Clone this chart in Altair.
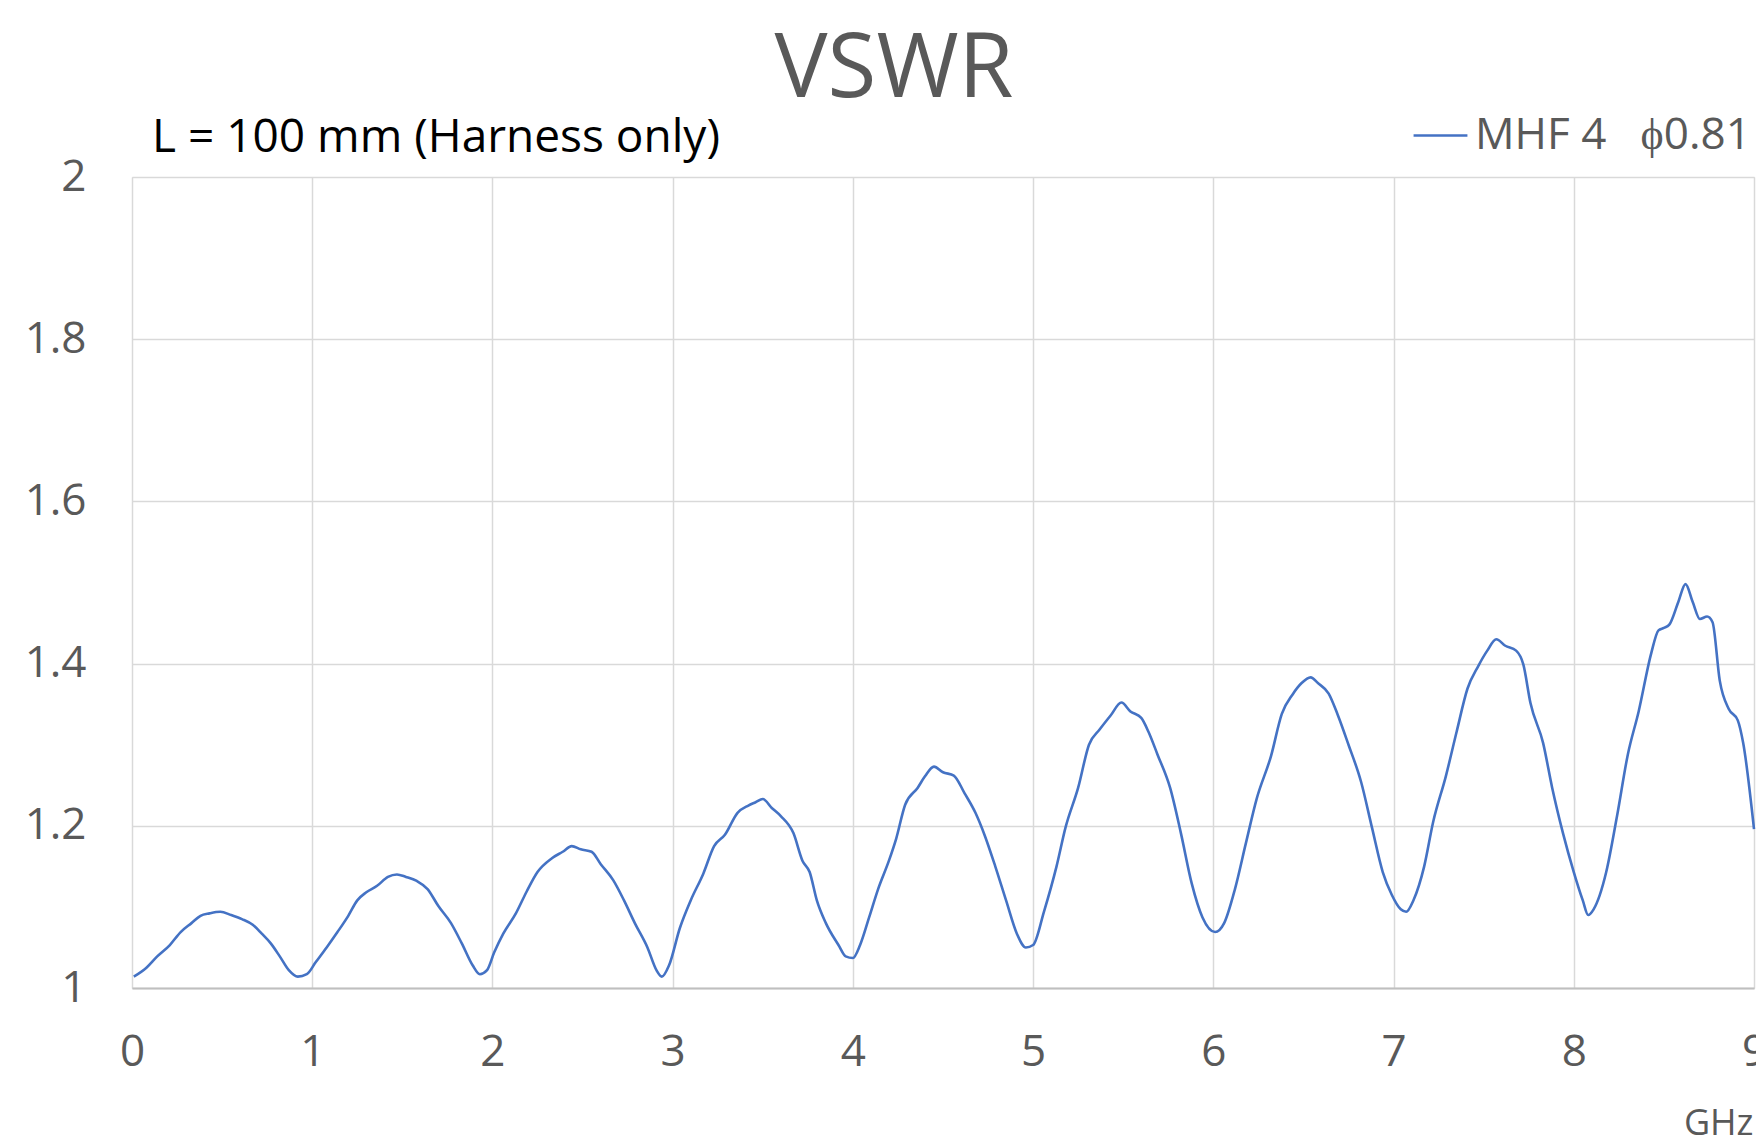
import altair as alt
import pandas as pd

# ---- data ----
freq_ghz = [
    0.01, 0.08, 0.14, 0.21, 0.27, 0.33, 0.38, 0.43, 0.49, 0.55, 0.61, 0.67, 0.72, 0.77, 0.82, 0.87, 0.92, 0.97,
    1.02, 1.08, 1.14, 1.20, 1.25, 1.30, 1.36, 1.42, 1.47, 1.52, 1.58, 1.64, 1.70, 1.77, 1.83, 1.89, 1.93, 1.97,
    2.01, 2.06, 2.13, 2.19, 2.25, 2.33, 2.39, 2.44, 2.49, 2.55, 2.60, 2.67, 2.73, 2.79, 2.86, 2.91, 2.94, 2.98,
    3.04, 3.10, 3.17, 3.23, 3.29, 3.36, 3.42, 3.46, 3.50, 3.55, 3.60, 3.67, 3.72, 3.76, 3.80, 3.85, 3.92, 3.96, 4.00, 4.04,
    4.09, 4.14, 4.20, 4.24, 4.29, 4.36, 4.40, 4.45, 4.50, 4.56, 4.62, 4.68, 4.73, 4.79, 4.85, 4.91, 4.96, 5.00,
    5.06, 5.13, 5.18, 5.25, 5.31, 5.37, 5.43, 5.49, 5.54, 5.60, 5.64, 5.69, 5.76, 5.82, 5.88, 5.94, 6.01, 6.06,
    6.12, 6.18, 6.24, 6.32, 6.38, 6.44, 6.49, 6.54, 6.58, 6.64, 6.69, 6.75, 6.82, 6.88, 6.94, 6.99, 7.04, 7.07, 7.11,
    7.17, 7.22, 7.29, 7.35, 7.41, 7.47, 7.52, 7.57, 7.62, 7.68, 7.72, 7.76, 7.83, 7.88, 7.94, 8.00, 8.05, 8.08, 8.11,
    8.18, 8.24, 8.30, 8.36, 8.43, 8.47, 8.50, 8.53, 8.58, 8.62, 8.66, 8.70, 8.74, 8.77, 8.81, 8.86, 8.91, 8.94, 9.00,
]
vswr = [
    1.014, 1.025, 1.039, 1.053, 1.069, 1.080, 1.089, 1.092, 1.094, 1.090, 1.085, 1.078, 1.067, 1.055, 1.039, 1.022, 1.014, 1.017,
    1.032, 1.050, 1.069, 1.089, 1.108, 1.118, 1.126, 1.137, 1.140, 1.137, 1.132, 1.122, 1.101, 1.080, 1.055, 1.028, 1.017, 1.022,
    1.044, 1.067, 1.092, 1.119, 1.143, 1.160, 1.168, 1.175, 1.171, 1.168, 1.153, 1.133, 1.108, 1.080, 1.050, 1.022, 1.014, 1.028,
    1.074, 1.108, 1.141, 1.175, 1.189, 1.216, 1.225, 1.229, 1.233, 1.222, 1.212, 1.191, 1.157, 1.143, 1.108, 1.080, 1.053, 1.039, 1.037, 1.053,
    1.087, 1.122, 1.157, 1.184, 1.226, 1.247, 1.261, 1.273, 1.266, 1.262, 1.240, 1.216, 1.189, 1.150, 1.108, 1.067, 1.050, 1.053,
    1.094, 1.150, 1.198, 1.247, 1.300, 1.319, 1.336, 1.352, 1.341, 1.333, 1.316, 1.288, 1.247, 1.191, 1.129, 1.087, 1.069, 1.080,
    1.122, 1.178, 1.233, 1.286, 1.338, 1.362, 1.376, 1.383, 1.376, 1.363, 1.337, 1.300, 1.254, 1.198, 1.143, 1.115, 1.097, 1.094, 1.108,
    1.150, 1.205, 1.261, 1.316, 1.369, 1.397, 1.416, 1.430, 1.422, 1.416, 1.399, 1.351, 1.302, 1.247, 1.191, 1.143, 1.108, 1.090, 1.097,
    1.143, 1.212, 1.288, 1.341, 1.413, 1.441, 1.444, 1.448, 1.476, 1.498, 1.476, 1.455, 1.458, 1.451, 1.379, 1.344, 1.330, 1.302, 1.196,
]
series_name = "MHF 4\u00a0\u00a0\u00a0\u03d50.81"
x_ticks = [0, 1, 2, 3, 4, 5, 6, 7, 8, 9]
y_ticks = [1.0, 1.2, 1.4, 1.6, 1.8, 2.0]
title_text = "VSWR"
subtitle_text = "L = 100 mm (Harness only)"
x_unit = "GHz"

FONT = "Open Sans"
GRAY = "#595959"
PLOT_W = 1622
PLOT_H = 811

df = pd.DataFrame({"f": freq_ghz, "v": vswr, "s": [series_name] * len(freq_ghz)})

line = alt.Chart(df).mark_line(strokeWidth=2.6, interpolate="monotone").encode(
    x=alt.X(
        "f:Q",
        scale=alt.Scale(domain=[0, 9], nice=False, zero=False),
        axis=alt.Axis(
            values=x_ticks, title=x_unit, titleAnchor="end", titleAlign="right",
            titleX=PLOT_W - 1, titleY=146, titleBaseline="alphabetic",
            titleFontSize=36, titleFontWeight="normal", titleColor=GRAY, titleFont=FONT,
            labelFontSize=44, labelColor=GRAY, labelFont=FONT, labelPadding=42,
            labelFlush=False, ticks=False, grid=True, gridColor="#d9d9d9", gridWidth=1.5,
            domain=True, domainColor="#bfbfbf", domainWidth=2,
        ),
    ),
    y=alt.Y(
        "v:Q",
        scale=alt.Scale(domain=[1, 2], nice=False, zero=False),
        axis=alt.Axis(
            values=y_ticks, format="~g", title=None,
            labelFontSize=44, labelColor=GRAY, labelFont=FONT, labelPadding=46,
            ticks=False, grid=True, gridColor="#d9d9d9", gridWidth=1.5, domain=False,
        ),
    ),
    color=alt.Color(
        "s:N",
        scale=alt.Scale(range=["#4472c4"]),
        legend=alt.Legend(
            title=None, orient="none", legendX=1280, legendY=-70,
            symbolType="stroke", symbolSize=2900, symbolStrokeWidth=2.4,
            labelFontSize=44, labelColor=GRAY, labelFont=FONT, labelOffset=6,
            labelLimit=0, padding=0,
        ),
    ),
)

title_layer = alt.Chart(pd.DataFrame({"t": [title_text]})).mark_text(
    font=FONT, fontSize=89, color=GRAY, align="center", baseline="alphabetic"
).encode(text="t:N", x=alt.value(762), y=alt.value(-80))

subtitle_layer = alt.Chart(pd.DataFrame({"t": [subtitle_text]})).mark_text(
    font=FONT, fontSize=46, color="#000000", align="left", baseline="alphabetic"
).encode(text="t:N", x=alt.value(20), y=alt.value(-25))

chart = alt.layer(line, title_layer, subtitle_layer).properties(
    width=PLOT_W, height=PLOT_H,
    autosize=alt.AutoSizeParams(type="none"),
    padding={"left": 124, "top": 169, "right": 2, "bottom": 149},
).configure_view(stroke=None).configure(background="white")

chart.save("out.html", embed_options={"renderer": "svg", "actions": False})
